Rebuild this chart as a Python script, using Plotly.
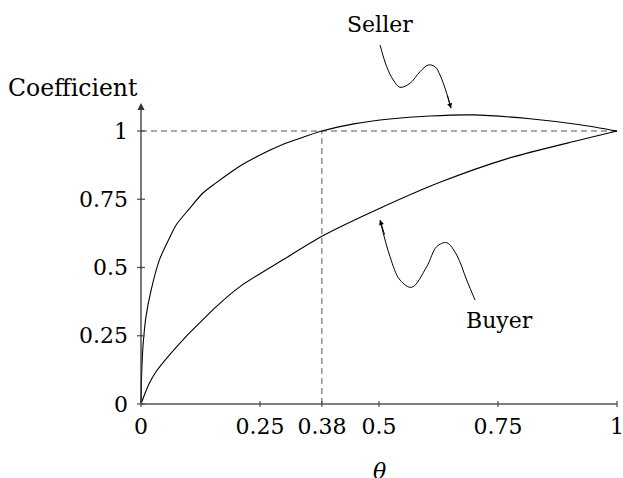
import plotly.graph_objects as go

# ---- data ----
seller_theta = [0, 0.001, 0.0025, 0.005, 0.0105, 0.021, 0.0385, 0.0595, 0.0735, 0.1015, 0.1296,
                0.1576, 0.208, 0.25, 0.3, 0.327, 0.38, 0.45, 0.523, 0.607, 0.697, 0.817, 0.922, 1.0]
seller_coef = [0, 0.09, 0.16, 0.23, 0.32, 0.415, 0.527, 0.607, 0.655, 0.715, 0.772,
               0.81, 0.872, 0.912, 0.952, 0.969, 1.0, 1.027, 1.044, 1.055, 1.059, 1.045, 1.023, 1.0]

buyer_theta = [0, 0.0069, 0.0175, 0.0315, 0.0595, 0.0945, 0.1296, 0.1576, 0.208, 0.3, 0.383,
               0.502, 0.628, 0.768, 0.922, 1.0]
buyer_coef = [0, 0.032, 0.076, 0.118, 0.179, 0.247, 0.308, 0.356, 0.430, 0.53, 0.617,
              0.717, 0.812, 0.898, 0.967, 1.0]

x_ticks = [0, 0.25, 0.38, 0.5, 0.75, 1]
x_tick_labels = ["0", "0.25", "0.38", "0.5", "0.75", "1"]
y_ticks = [0, 0.25, 0.5, 0.75, 1]
y_tick_labels = ["0", "0.25", "0.5", "0.75", "1"]

crossing_theta = 0.38
crossing_coef = 1.0
y_axis_top = 1.103

# decorative wiggly pointer paths (data coordinates)
seller_pointer_x = [0.5021, 0.5162, 0.5300, 0.5441, 0.5651, 0.5861, 0.6036, 0.6176, 0.6282, 0.6422, 0.6513]
seller_pointer_y = [1.3150, 1.2355, 1.1868, 1.1601, 1.1747, 1.2172, 1.2418, 1.2355, 1.2051, 1.1381, 1.0832]
buyer_pointer_x = [0.7017, 0.6842, 0.6632, 0.6422, 0.6212, 0.6002, 0.5687, 0.5441, 0.5231, 0.5021]
buyer_pointer_y = [0.3810, 0.4542, 0.5458, 0.5908, 0.5762, 0.5029, 0.4275, 0.4542, 0.5396, 0.6740]

FONT = "DejaVu Serif"
FS = 22
AXIS_COLOR = "#555555"
DASH_COLOR = "#555555"

fig = go.Figure()

# dashed guide lines
fig.add_trace(go.Scatter(x=[0, 1], y=[crossing_coef, crossing_coef], mode="lines",
                         line=dict(color=DASH_COLOR, width=1, dash="6px,4px"),
                         hoverinfo="skip", showlegend=False))
fig.add_trace(go.Scatter(x=[crossing_theta, crossing_theta], y=[0, crossing_coef], mode="lines",
                         line=dict(color=DASH_COLOR, width=1, dash="6px,4px"),
                         hoverinfo="skip", showlegend=False))

# x axis line
fig.add_trace(go.Scatter(x=[0, 1], y=[0, 0], mode="lines",
                         line=dict(color=AXIS_COLOR, width=1.3), hoverinfo="skip", showlegend=False))

# curves
fig.add_trace(go.Scatter(x=seller_theta, y=seller_coef, mode="lines", name="Seller",
                         line=dict(color="black", width=1.1, shape="spline", smoothing=0.8),
                         showlegend=False))
fig.add_trace(go.Scatter(x=buyer_theta, y=buyer_coef, mode="lines", name="Buyer",
                         line=dict(color="black", width=1.1, shape="spline", smoothing=0.8),
                         showlegend=False))

# pointers
fig.add_trace(go.Scatter(x=seller_pointer_x, y=seller_pointer_y, mode="lines",
                         line=dict(color="black", width=1, shape="spline", smoothing=1.0),
                         hoverinfo="skip", showlegend=False))
fig.add_trace(go.Scatter(x=buyer_pointer_x, y=buyer_pointer_y, mode="lines",
                         line=dict(color="black", width=1, shape="spline", smoothing=1.0),
                         hoverinfo="skip", showlegend=False))

# tick marks crossing the axes
for t in x_ticks:
    fig.add_shape(type="line", xref="x", yref="y", x0=t, x1=t, ysizemode="pixel", yanchor=0,
                  y0=-3, y1=3, line=dict(color=AXIS_COLOR, width=1.3))
for t in y_ticks:
    fig.add_shape(type="line", xref="x", yref="y", y0=t, y1=t, xsizemode="pixel", xanchor=0,
                  x0=-4, x1=4, line=dict(color=AXIS_COLOR, width=1.3))

annotations = [
    # y axis with arrow
    dict(x=0, y=y_axis_top, xref="x", yref="y", ax=0, ay=0, axref="x", ayref="y",
         showarrow=True, arrowhead=2, arrowsize=1.1, arrowwidth=1.3, arrowcolor="#333333",
         text=""),
    # pointer heads
    dict(x=seller_pointer_x[-1], y=seller_pointer_y[-1], xref="x", yref="y", ax=-4, ay=-14,
         showarrow=True, arrowhead=2, arrowsize=1, arrowwidth=1, arrowcolor="black", text=""),
    dict(x=buyer_pointer_x[-1], y=buyer_pointer_y[-1], xref="x", yref="y", ax=5, ay=16,
         showarrow=True, arrowhead=2, arrowsize=1, arrowwidth=1, arrowcolor="black", text=""),
    # texts
    dict(x=-0.1181, y=0.7848, xref="paper", yref="paper", text="Coefficient", showarrow=False,
         xanchor="center", yanchor="middle", font=dict(family=FONT, size=23.5, color="black")),
    dict(x=0.5071, y=0.9413, xref="paper", yref="paper", text="Seller", showarrow=False,
         xanchor="center", yanchor="middle", font=dict(family=FONT, size=FS, color="black")),
    dict(x=0.7495, y=0.2176, xref="paper", yref="paper", text="Buyer", showarrow=False,
         xanchor="center", yanchor="middle", font=dict(family=FONT, size=FS, color="black")),
    dict(x=0.507, y=-0.152, xref="paper", yref="paper", text="<i>θ</i>", showarrow=False,
         xanchor="center", yanchor="middle", font=dict(family=FONT, size=FS, color="black")),
]

fig.update_layout(
    width=623, height=478,
    margin=dict(l=131, r=1, t=0, b=69),
    paper_bgcolor="white", plot_bgcolor="white",
    showlegend=False,
    annotations=annotations,
    xaxis=dict(range=[-0.021008, 1.0105], showgrid=False, zeroline=False, showline=False,
               tickvals=x_ticks, ticktext=x_tick_labels, ticks="", ticklabelstandoff=2,
               ticklabeloverflow="allow",
               tickfont=dict(family=FONT, size=FS, color="black"), fixedrange=True,
               automargin=False),
    yaxis=dict(range=[-0.018315, 1.479853], showgrid=False, zeroline=False, showline=False,
               tickvals=y_ticks, ticktext=y_tick_labels, ticks="", ticklabelstandoff=2,
               ticklabeloverflow="allow",
               tickfont=dict(family=FONT, size=FS, color="black"), fixedrange=True,
               automargin=False),
)

fig.write_html("out.html", config={"displayModeBar": False},
               post_script="document.body.style.margin='0';document.body.style.padding='0';")
